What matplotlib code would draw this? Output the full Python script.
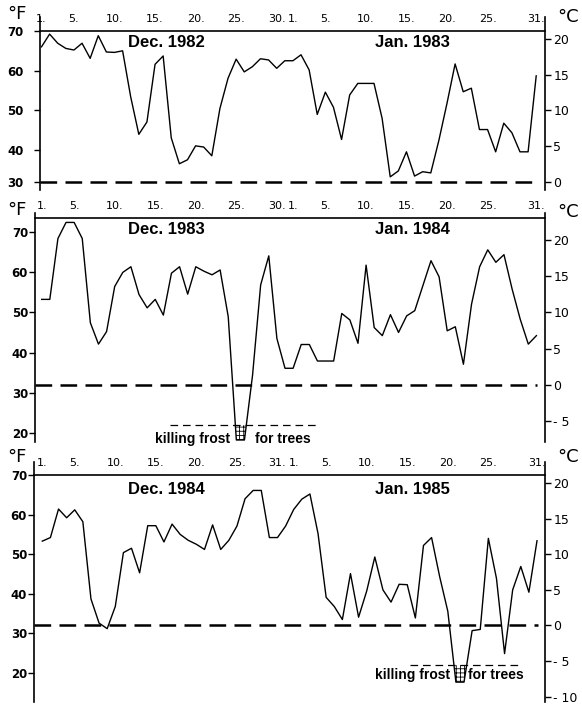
import numpy as np
import matplotlib
matplotlib.use('Agg')
import matplotlib.pyplot as plt

plt.rcParams['font.family'] = ['DejaVu Sans']
plt.rcParams['lines.scale_dashes'] = False
plt.rcParams['hatch.linewidth'] = 0.6

# day index: 1..31 = Dec 1..31, 32..62 = Jan 1..31
days = np.arange(1, 63)

# daily temperatures, deg F
temp_1982 = [66.0, 69.2, 66.9, 65.6, 65.2, 66.9, 63.1, 68.8, 64.7, 64.6,
             65.0, 53.4, 44.0, 47.1, 61.6, 63.7, 43.1, 36.6, 37.6, 41.1,
             40.8, 38.6, 50.5, 58.1, 62.9, 59.7, 61.0, 63.0, 62.7, 60.6,
             62.5, 62.5, 64.0, 60.2, 49.0, 54.6, 50.8, 42.7, 53.9, 56.8,
             56.8, 56.8, 48.0, 33.3, 34.8, 39.6, 33.5, 34.6, 34.3, 42.5,
             51.8, 61.7, 54.7, 55.6, 45.2, 45.2, 39.6, 46.8, 44.4, 39.6,
             39.6, 58.7]
temp_1983 = [53.2, 53.2, 68.3, 72.3, 72.3, 68.3, 47.4, 42.1, 45.2, 56.4,
             59.9, 61.3, 54.4, 51.1, 53.2, 49.3, 59.7, 61.3, 54.5, 61.3,
             60.2, 59.3, 60.5, 48.9, 18.3, 18.3, 34.4, 56.8, 64.0, 43.5,
             36.1, 36.1, 42.0, 42.0, 37.9, 37.9, 37.9, 49.7, 48.1, 42.3,
             61.7, 46.2, 44.2, 49.4, 45.0, 49.1, 50.4, 56.6, 62.8, 58.8,
             45.4, 46.4, 37.1, 52.0, 61.3, 65.5, 62.4, 64.3, 55.8, 48.3,
             42.1, 44.2]
temp_1984 = [53.3, 54.2, 61.4, 59.2, 61.2, 58.2, 38.7, 32.6, 31.2, 36.8,
             50.4, 51.5, 45.3, 57.2, 57.2, 53.1, 57.6, 55.0, 53.5, 52.5,
             51.2, 57.4, 51.2, 53.5, 57.1, 64.0, 66.1, 66.1, 54.2, 54.2,
             57.1, 61.3, 63.9, 65.2, 55.2, 39.1, 36.8, 33.5, 45.1, 34.1,
             40.7, 49.3, 41.0, 37.9, 42.4, 42.3, 33.9, 52.2, 54.2, 44.3,
             35.6, 17.7, 17.7, 30.7, 31.0, 54.0, 43.9, 24.9, 41.0, 46.9,
             40.4, 53.4]

tick_days = [1, 5, 10, 15, 20, 25, 30, 32, 36, 41, 46, 51, 56, 62]
tick_labels_a = ['1.', '5.', '10.', '15.', '20.', '25.', '30.',
                 '1.', '5.', '10.', '15.', '20.', '25.', '31.']
tick_labels_b = ['1.', '5.', '10.', '15.', '20.', '25.', '31.',
                 '1.', '5.', '10.', '15.', '20.', '25.', '31.']

freeze_f = 32.0
frost_f = 22.0

W, H = 582, 705
fig = plt.figure(figsize=(W / 100., H / 100.), dpi=100)


def f2c(f):
    return (f - 32.0) * 5.0 / 9.0


def draw_panel(left, right, top, bottom, day1_px, ylo, yhi, top_line, temps,
               f_ticks, f_labels, c_ticks, c_labels, xlabels, months,
               month_y, lpad, unit_y, frost=None):
    ax = fig.add_axes([left / W, 1 - bottom / H, (right - left) / W,
                       (bottom - top) / H])
    x0 = 1 + (left - day1_px) / 8.11
    x1 = 1 + (right - day1_px) / 8.11
    ax.set_xlim(x0, x1)
    ax.set_ylim(ylo, yhi)
    ax.patch.set_visible(False)
    for s in ['bottom', 'right']:
        ax.spines[s].set_visible(False)
    ax.spines['top'].set_position(('data', top_line))
    for s in ['top', 'left']:
        ax.spines[s].set_linewidth(1.2)

    ax.xaxis.set_ticks_position('top')
    ax.set_xticks(tick_days)
    ax.set_xticklabels(xlabels, fontsize=8)
    ax.tick_params(axis='x', length=0, pad=5)

    ax.set_yticks(f_ticks)
    ax.set_yticklabels(f_labels, fontsize=8.5, fontweight='bold')
    ax.tick_params(axis='y', direction='out', length=4, width=1, pad=lpad)

    temps = np.array(temps)
    ax.plot(days, temps, color='black', lw=1.0)
    ax.plot([x0, 62.1], [freeze_f, freeze_f], color='black', lw=1.8,
            ls=(0, (12, 6)))

    if frost is not None:
        fx0, fx1, tx_right, tx_left, ty = frost
        ax.plot([fx0, fx1], [frost_f, frost_f], color='black', lw=0.9,
                ls=(0, (5.5, 3.5)))
        ax.fill_between(days, temps, frost_f, where=temps < frost_f,
                        interpolate=True, facecolor='white',
                        edgecolor='black', hatch='++++', linewidth=0)
        ax.text(tx_right, ty, 'killing frost', ha='right', va='center',
                fontsize=10, fontweight='bold', family='Liberation Sans')
        ax.text(tx_left, ty, 'for trees', ha='left', va='center',
                fontsize=10, fontweight='bold', family='Liberation Sans')

    ax.text(16.35, month_y, months[0], ha='center', va='center',
            fontsize=12, fontweight='bold', family='Liberation Sans')
    ax.text(46.7, month_y, months[1], ha='center', va='center',
            fontsize=12, fontweight='bold', family='Liberation Sans')

    ax2 = ax.twinx()
    ax2.set_ylim(f2c(ylo), f2c(yhi))
    for s in ['bottom', 'top', 'left']:
        ax2.spines[s].set_visible(False)
    ax2.spines['right'].set_linewidth(1.2)
    ax2.set_yticks(c_ticks)
    ax2.set_yticklabels(c_labels, fontsize=9)
    ax2.tick_params(axis='y', direction='out', length=4, width=1, pad=2)

    fig.text(17 / W, 1 - unit_y[0] / H, '°F', ha='center', va='center',
             fontsize=13)
    fig.text(568 / W, 1 - unit_y[1] / H, '°C', ha='center', va='center',
             fontsize=13)
    return ax


# Dec 1982 / Jan 1983
draw_panel(40, 545, 17, 190, 41.5, 30.0, 73.5, 70.0, temp_1982,
           [70, 60, 50, 40, 32], ['70', '60', '50', '40', '30'],
           [20, 15, 10, 5, 0], ['20', '15', '10', '5', '0'],
           tick_labels_a, ['Dec. 1982', 'Jan. 1983'], 67.0, 8, (14, 17))

# Dec 1983 / Jan 1984
draw_panel(35, 545, 213, 442, 41.7, 17.8, 74.64, 73.5, temp_1983,
           [70, 60, 50, 40, 30, 20], ['70', '60', '50', '40', '30', '20'],
           [20, 15, 10, 5, 0, -5], ['20', '15', '10', '5', '0', '- 5'],
           tick_labels_a, ['Dec. 1983', 'Jan. 1984'], 70.6, 1, (210, 212),
           frost=(16.8, 34.95, 24.2, 27.3, 18.6))

# Dec 1984 / Jan 1985
draw_panel(34, 545, 462, 702, 42.3, 12.68, 73.28, 70.0, temp_1984,
           [70, 60, 50, 40, 30, 20], ['70', '60', '50', '40', '30', '20'],
           [20, 15, 10, 5, 0, -5, -10],
           ['20', '15', '10', '5', '0', '- 5', '- 10'],
           tick_labels_b, ['Dec. 1984', 'Jan. 1985'], 66.3, 1, (457, 457),
           frost=(46.4, 60.2, 51.3, 53.5, 19.4))

fig.savefig('out.png', dpi=100)
